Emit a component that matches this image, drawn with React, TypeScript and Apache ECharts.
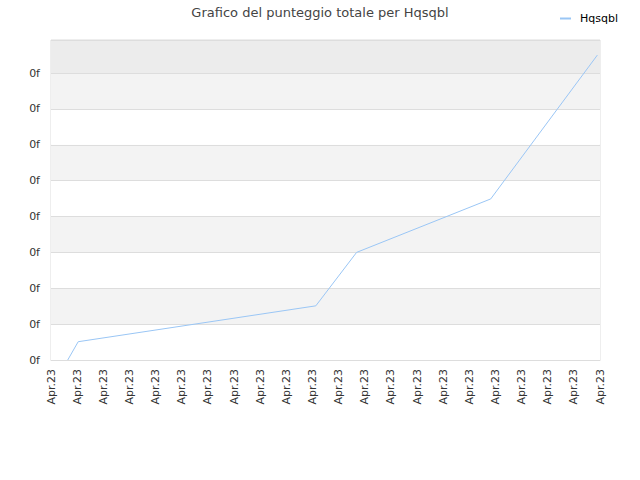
import { useEffect, useRef } from 'react';
import * as echarts from 'echarts';

// x positions are in tick units (0..21), y in grid-line units
const seriesName = 'Hqsqbl';
const pointX = [0.64, 1.04, 10.13, 11.69, 16.82, 20.9];
const pointY = [0, 0.51, 1.51, 3.0, 4.49, 8.5];
const xLabels = [
  'Apr.23', 'Apr.23', 'Apr.23', 'Apr.23', 'Apr.23', 'Apr.23', 'Apr.23', 'Apr.23',
  'Apr.23', 'Apr.23', 'Apr.23', 'Apr.23', 'Apr.23', 'Apr.23', 'Apr.23', 'Apr.23',
  'Apr.23', 'Apr.23', 'Apr.23', 'Apr.23', 'Apr.23', 'Apr.23',
];
const yTickLabel = '0f';
const bandColors = [
  '#ffffff', '#f3f3f3', '#ffffff', '#f3f3f3', '#ffffff',
  '#f3f3f3', '#ffffff', '#f3f3f3', '#ececec',
];

export default function App() {
  const chartRef = useRef<HTMLDivElement>(null);

  useEffect(() => {
    if (!chartRef.current) return;
    const chart = echarts.init(chartRef.current, null, { renderer: 'svg' });

    const option: echarts.EChartsOption = {
      animation: false,
      backgroundColor: '#ffffff',
      textStyle: { fontFamily: 'DejaVu Sans' },
      title: {
        text: 'Grafico del punteggio totale per Hqsqbl',
        left: 'center',
        top: 1,
        textStyle: {
          fontSize: 13,
          fontWeight: 'normal',
          color: '#444',
          fontFamily: 'DejaVu Sans',
        },
      },
      legend: {
        right: 17,
        top: 8,
        icon: 'rect',
        itemWidth: 11,
        itemHeight: 2,
        itemGap: 6,
        textStyle: { fontSize: 11, color: '#000', padding: [0, 0, 0, 4] },
        data: [seriesName],
      },
      grid: {
        left: 51,
        right: 40,
        top: 40,
        bottom: 120,
        show: true,
        borderColor: '#dddddd',
        borderWidth: 1,
        containLabel: false,
      },
      xAxis: {
        type: 'value',
        min: 0,
        max: xLabels.length - 1,
        interval: 1,
        axisLine: { show: true, lineStyle: { color: '#dddddd' } },
        axisTick: { show: false },
        splitLine: { show: false },
        axisLabel: {
          rotate: 90,
          fontSize: 11,
          color: '#333',
          margin: 9,
          formatter: (v: number) => xLabels[Math.round(v)] ?? '',
        },
      },
      yAxis: {
        type: 'value',
        min: 0,
        max: 8.92,
        interval: 1,
        axisLine: { show: false },
        axisTick: { show: false },
        splitLine: { show: true, lineStyle: { color: '#dddddd' } },
        splitArea: { show: true, areaStyle: { color: bandColors } },
        axisLabel: {
          fontSize: 11,
          color: '#333',
          margin: 11,
          showMaxLabel: false,
          formatter: () => yTickLabel,
        },
      },
      series: [
        {
          name: seriesName,
          type: 'line',
          showSymbol: false,
          symbol: 'none',
          clip: true,
          lineStyle: { color: '#9ac6f5', width: 1 },
          itemStyle: { color: '#9ac6f5' },
          data: pointX.map((x, i) => [x, pointY[i]]),
        },
      ],
    };

    chart.setOption(option);
    return () => {
      chart.dispose();
    };
  }, []);

  return (
    <div
      ref={chartRef}
      style={{ position: 'fixed', left: 0, top: 0, width: '640px', height: '480px' }}
    />
  );
}
